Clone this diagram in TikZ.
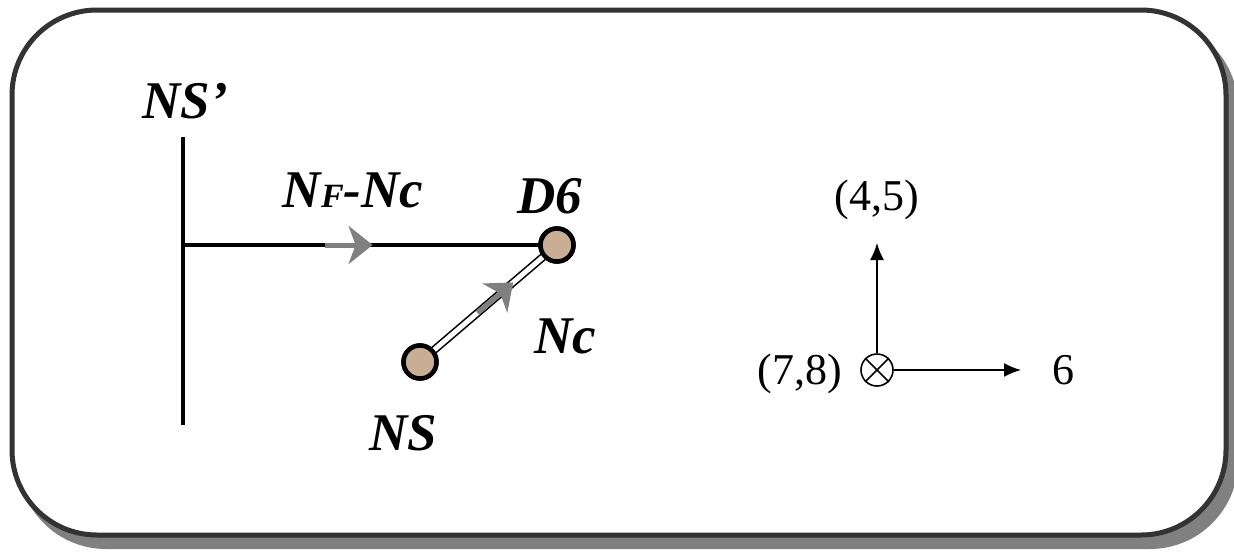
\documentclass[tikz,border=0pt]{standalone}
\usepackage{fontspec}
\setmainfont{Liberation Serif}
\usetikzlibrary{arrows.meta,calc}
\definecolor{tanfill}{RGB}{201,174,150}
\definecolor{boxline}{RGB}{51,51,51}
\definecolor{shadowgray}{RGB}{128,128,128}
\tikzset{
  bi/.style={font=\fontsize{53}{56}\selectfont\bfseries\itshape, inner sep=0pt, anchor=base},
  rm/.style={font=\fontsize{44}{48}\selectfont, inner sep=0pt, anchor=base},
  dot/.style={circle, draw=black, fill=tanfill, line width=4.5pt, minimum size=33pt, inner sep=0pt},
  grayarrow/.style={draw=shadowgray, line width=5pt, -{Stealth[length=24pt,width=38pt,inset=7pt,fill=shadowgray]}},
  thinarrow/.style={line width=1.6pt, -{Latex[length=17pt,width=14pt]}},
}
\begin{document}
\begin{tikzpicture}[x=1pt,y=-1pt]
\useasboundingbox (0,0) rectangle (1234,555);
% shadow and frame
\fill[shadowgray, rounded corners=88pt] (18,20) rectangle (1238,549);
\draw[boxline, fill=white, line width=5pt, rounded corners=85pt] (12,10) rectangle (1226,535);

% left part
\coordinate (nstop) at (183,137);
\coordinate (nsbot) at (183,425);
\coordinate (j) at (183,245);
\node[dot] (d6) at (557,245) {};
\node[dot] (ns) at (420,362) {};
\draw[line width=4pt] (nstop) -- (nsbot);
\draw[line width=4.5pt] (j) -- (d6.center);
\draw[double=white, double distance=5pt, line width=1.6pt] (ns.center) -- (d6.center);
\node[dot] at (d6) {};
\node[dot] at (ns) {};
\draw[grayarrow] ($(j)!0.38!(d6)$) -- ($(j)!0.507!(d6)$);
\draw[grayarrow] ($(ns)!0.42!(d6)$) -- ($(ns)!0.68!(d6)$);

\node[bi] (lnsp) at (185,118) {NS’};
\node[bi] (lnf) at (353,207) {N{\fontsize{34}{36}\selectfont F}-Nc};
\node[bi] (ld6) at (550,213) {D6};
\node[bi] (lnc) at (565,353) {Nc};
\node[bi] (lns) at (403,450) {NS};

% right part
\node[circle, draw, line width=1.6pt, minimum size=32pt, inner sep=0pt] (o) at (877,370) {};
\draw[line width=1.6pt] (o.north east) -- (o.south west) (o.north west) -- (o.south east);
\coordinate (up) at (877,243);
\coordinate (rt) at (1021,370);
\draw[thinarrow] (o.north) -- (up);
\draw[thinarrow] (o.east) -- (rt);
\node[rm] (l45) at (877,210) {(4,5)};
\node[rm] (l78) at (800,384) {(7,8)};
\node[rm] (l6) at (1063,384) {6};
\end{tikzpicture}
\end{document}
